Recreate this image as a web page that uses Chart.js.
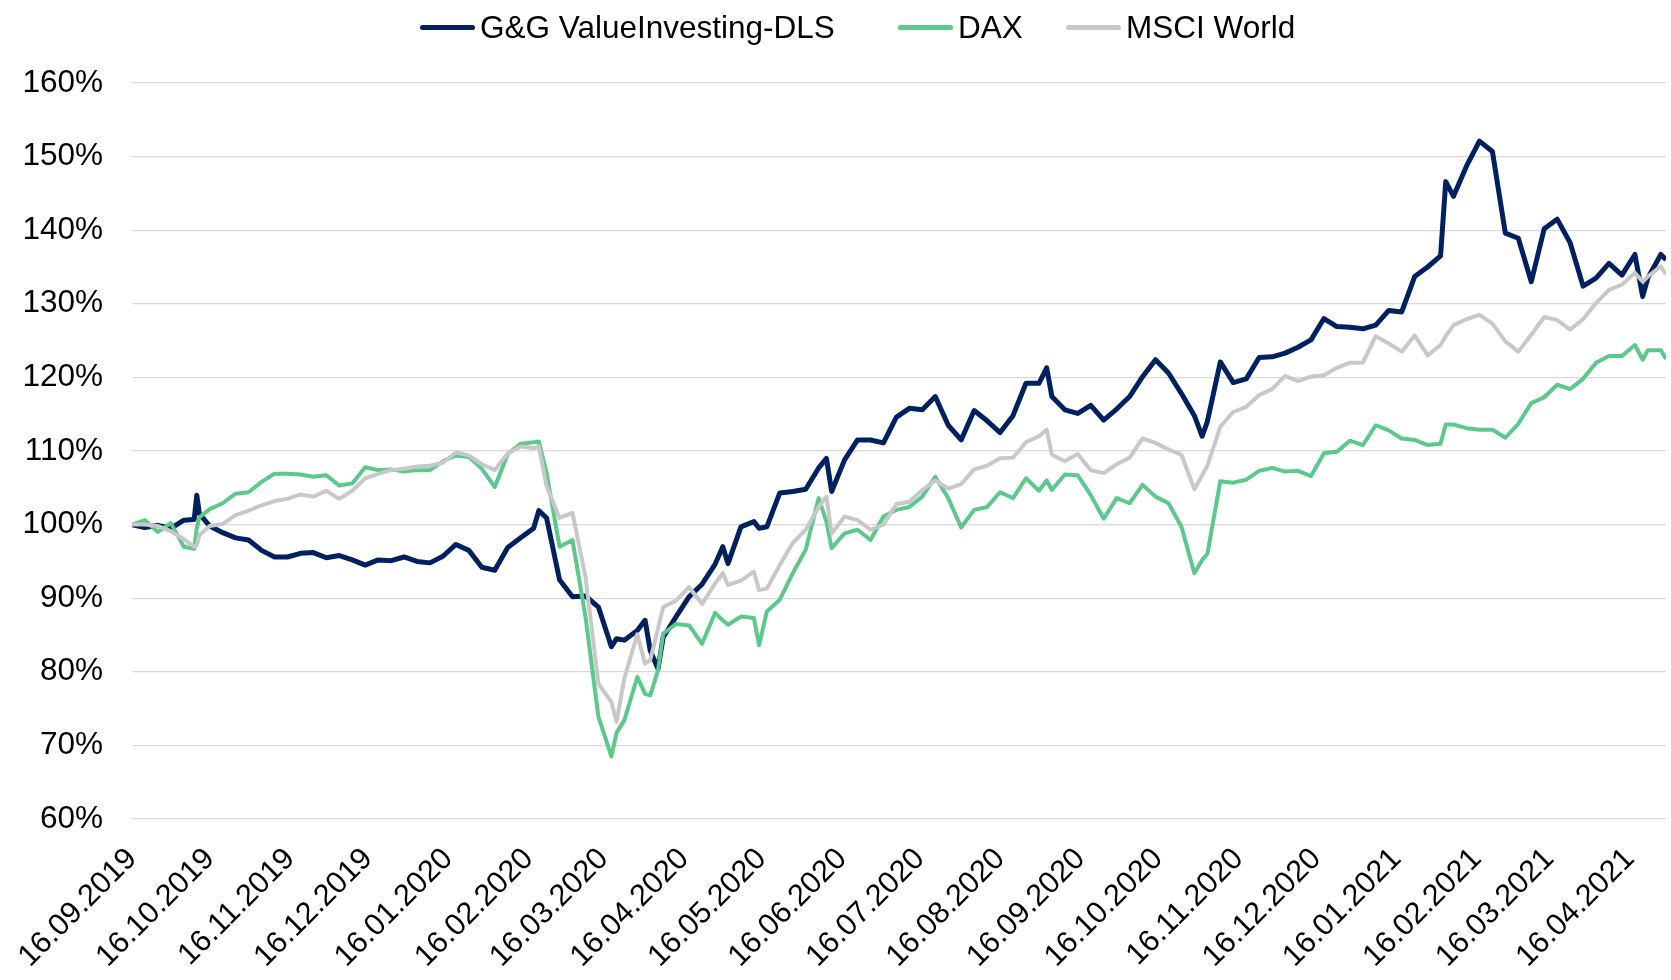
<!DOCTYPE html>
<html>
<head>
<meta charset="utf-8">
<script src="https://cdn.jsdelivr.net/npm/chart.js@4.4.1/dist/chart.umd.min.js"></script>
<style>
  body { margin: 0; background: #fff; }
  #wrap { position: relative; width: 1671px; height: 980px; }
  #legend { position: absolute; left: 0; top: 7px; height: 40px; width: 1671px;
    font: 31.5px "Liberation Sans", Arial, sans-serif; color: #000; }
  #legend .item { position: absolute; top: 0; height: 40px; display: flex; align-items: center; white-space: nowrap; }
  #legend .swatch { width: 55px; height: 5px; border-radius: 2.5px; margin-right: 5px; }
</style>
</head>
<body>
<div id="wrap">
  <canvas id="chart" width="1671" height="980"></canvas>
  <div id="legend"></div>
</div>
<script>
const seriesNames = ["G&G ValueInvesting-DLS", "DAX", "MSCI World"];

const dates = [
  "16.09.2019", "21.09.2019", "26.09.2019", "01.10.2019", "06.10.2019", "10.10.2019", "11.10.2019", "12.10.2019", "16.10.2019", "21.10.2019",
  "26.10.2019", "31.10.2019", "05.11.2019", "10.11.2019", "15.11.2019", "20.11.2019", "25.11.2019", "30.11.2019", "05.12.2019", "10.12.2019",
  "15.12.2019", "20.12.2019", "25.12.2019", "30.12.2019", "04.01.2020", "09.01.2020", "14.01.2020", "19.01.2020", "24.01.2020", "29.01.2020",
  "03.02.2020", "08.02.2020", "13.02.2020", "18.02.2020", "20.02.2020", "23.02.2020", "28.02.2020", "04.03.2020", "09.03.2020", "14.03.2020",
  "19.03.2020", "21.03.2020", "24.03.2020", "29.03.2020", "01.04.2020", "03.04.2020", "06.04.2020", "08.04.2020", "13.04.2020", "18.04.2020",
  "23.04.2020", "28.04.2020", "01.05.2020", "03.05.2020", "08.05.2020", "13.05.2020", "15.05.2020", "18.05.2020", "23.05.2020", "28.05.2020",
  "02.06.2020", "07.06.2020", "10.06.2020", "12.06.2020", "17.06.2020", "22.06.2020", "27.06.2020", "02.07.2020", "07.07.2020", "12.07.2020",
  "17.07.2020", "22.07.2020", "27.07.2020", "01.08.2020", "06.08.2020", "11.08.2020", "16.08.2020", "21.08.2020", "26.08.2020", "31.08.2020",
  "03.09.2020", "05.09.2020", "10.09.2020", "15.09.2020", "20.09.2020", "25.09.2020", "30.09.2020", "05.10.2020", "10.10.2020", "15.10.2020",
  "20.10.2020", "25.10.2020", "30.10.2020", "02.11.2020", "04.11.2020", "09.11.2020", "14.11.2020", "19.11.2020", "24.11.2020", "29.11.2020",
  "04.12.2020", "09.12.2020", "14.12.2020", "19.12.2020", "24.12.2020", "29.12.2020", "03.01.2021", "08.01.2021", "13.01.2021", "18.01.2021",
  "23.01.2021", "28.01.2021", "02.02.2021", "04.02.2021", "07.02.2021", "12.02.2021", "17.02.2021", "22.02.2021", "27.02.2021", "04.03.2021",
  "09.03.2021", "14.03.2021", "19.03.2021", "24.03.2021", "29.03.2021", "03.04.2021", "08.04.2021", "13.04.2021", "18.04.2021", "21.04.2021",
  "23.04.2021", "28.04.2021", "30.04.2021"
];

const ggValues = [
  100.0, 99.6, 99.9, 99.5, 100.6, 100.7, 104.0, 101.5, 99.8, 98.9,
  98.2, 97.9, 96.5, 95.6, 95.6, 96.1, 96.2, 95.5, 95.8, 95.2,
  94.5, 95.2, 95.1, 95.6, 95.0, 94.8, 95.7, 97.3, 96.5, 94.2,
  93.8, 96.9, 98.2, 99.5, 101.9, 100.9, 92.5, 90.2, 90.3, 88.8,
  83.4, 84.5, 84.3, 85.6, 87.0, 82.9, 80.4, 84.7, 87.5, 90.2,
  91.9, 94.6, 97.0, 94.7, 99.7, 100.4, 99.5, 99.7, 104.3, 104.5,
  104.8, 107.7, 109.0, 104.5, 108.8, 111.5, 111.5, 111.1, 114.6, 115.8,
  115.6, 117.4, 113.5, 111.5, 115.5, 114.1, 112.5, 114.8, 119.2, 119.2,
  121.3, 117.4, 115.6, 115.1, 116.2, 114.2, 115.7, 117.4, 120.1, 122.4,
  120.6, 117.8, 114.8, 112.0, 114.0, 122.1, 119.3, 119.8, 122.7, 122.8,
  123.3, 124.1, 125.1, 128.0, 126.9, 126.8, 126.6, 127.1, 129.1, 128.9,
  133.7, 135.0, 136.5, 146.6, 144.6, 148.7, 152.1, 150.7, 139.6, 138.9,
  133.0, 140.2, 141.5, 138.3, 132.4, 133.5, 135.5, 133.9, 136.7, 131.0,
  133.5, 136.7, 136.0
];

const daxValues = [
  100.0, 100.6, 99.0, 100.2, 97.0, 96.7, 99.5, 101.0, 102.1, 102.9,
  104.2, 104.4, 105.8, 106.9, 106.9, 106.8, 106.5, 106.7, 105.3, 105.6,
  107.8, 107.4, 107.5, 107.2, 107.4, 107.4, 108.6, 109.4, 109.2, 107.6,
  105.1, 109.6, 111.0, 111.2, 111.3, 107.0, 97.0, 97.9, 87.5, 73.9,
  68.5, 71.7, 73.4, 79.3, 77.0, 76.8, 80.2, 85.2, 86.5, 86.3,
  83.8, 88.0, 87.0, 86.4, 87.5, 87.3, 83.6, 88.2, 89.8, 93.4,
  96.6, 103.6, 100.4, 96.8, 98.8, 99.3, 97.9, 101.1, 102.0, 102.4,
  103.8, 106.5, 103.6, 99.6, 102.0, 102.4, 104.4, 103.6, 106.3, 104.6,
  106.0, 104.7, 106.8, 106.7, 104.0, 100.8, 103.6, 102.9, 105.4, 103.8,
  102.9, 99.7, 93.4, 95.2, 96.0, 105.9, 105.7, 106.1, 107.3, 107.7,
  107.2, 107.3, 106.6, 109.7, 109.9, 111.4, 110.8, 113.5, 112.8, 111.7,
  111.5, 110.8, 111.0, 113.6, 113.6, 113.1, 112.9, 112.9, 111.8, 113.7,
  116.5, 117.3, 119.0, 118.4, 119.8, 122.0, 122.9, 122.9, 124.4, 122.4,
  123.7, 123.7, 122.5
];

const msciValues = [
  100.0, 100.0, 99.8, 99.1, 98.0, 97.0, 97.2, 98.6, 99.8, 100.1,
  101.3, 101.9, 102.6, 103.2, 103.5, 104.1, 103.8, 104.6, 103.5, 104.6,
  106.3, 106.9, 107.4, 107.6, 107.9, 108.0, 108.4, 109.8, 109.4, 108.2,
  107.4, 109.7, 110.6, 110.4, 110.6, 105.2, 100.9, 101.6, 92.9, 78.4,
  75.9, 73.2, 79.1, 85.1, 81.1, 81.6, 85.9, 88.8, 89.7, 91.5,
  89.2, 92.0, 93.4, 91.8, 92.4, 93.6, 91.1, 91.3, 94.5, 97.5,
  99.3, 102.4, 103.8, 98.8, 101.1, 100.6, 99.3, 100.0, 102.8, 103.1,
  104.7, 106.0, 104.9, 105.5, 107.5, 108.0, 109.0, 109.1, 111.2, 112.0,
  112.9, 109.5, 108.6, 109.6, 107.4, 107.0, 108.2, 109.1, 111.7, 111.1,
  110.2, 109.5, 104.8, 106.7, 108.0, 113.3, 115.3, 116.0, 117.6, 118.4,
  120.2, 119.5, 120.1, 120.3, 121.3, 122.0, 122.0, 125.6, 124.6, 123.5,
  125.7, 123.0, 124.4, 125.6, 127.1, 127.9, 128.5, 127.3, 124.9, 123.5,
  125.8, 128.2, 127.8, 126.5, 127.9, 130.1, 131.9, 132.6, 134.2, 133.0,
  133.7, 135.1, 134.0
];

const tickLabels = [
  "16.09.2019", "16.10.2019", "16.11.2019", "16.12.2019", "16.01.2020",
  "16.02.2020", "16.03.2020", "16.04.2020", "16.05.2020", "16.06.2020",
  "16.07.2020", "16.08.2020", "16.09.2020", "16.10.2020", "16.11.2020",
  "16.12.2020", "16.01.2021", "16.02.2021", "16.03.2021", "16.04.2021"
];

const colors = ["#002060", "#5cc98c", "#c8c8c8"];
const widths = [5, 4, 4];
const legendLeft = [420, 898, 1066];

function dayNum(s) {
  const [d, m, y] = s.split(".").map(Number);
  return Date.UTC(y, m - 1, d) / 86400000;
}
const start = dayNum(dates[0]);
const xs = dates.map(d => dayNum(d) - start);
const tickDays = tickLabels.map(d => dayNum(d) - start);

function points(values) {
  return values.map((v, i) => ({ x: xs[i], y: v }));
}

const family = "'Liberation Sans', Arial, sans-serif";

// legend as plain html so the spacing matches
const legend = document.getElementById("legend");
seriesNames.forEach((name, i) => {
  legend.insertAdjacentHTML("beforeend",
    `<div class="item" style="left:${legendLeft[i]}px"><span class="swatch" style="background:${colors[i]}"></span>${name.replace("&", "&amp;")}</div>`);
});

const allValues = [ggValues, daxValues, msciValues];

new Chart(document.getElementById("chart"), {
  type: "line",
  data: {
    datasets: allValues.map((vals, i) => ({
      label: seriesNames[i],
      data: points(vals),
      borderColor: colors[i],
      backgroundColor: colors[i],
      borderWidth: widths[i],
      pointRadius: 0,
      tension: 0,
      borderJoinStyle: "round",
      order: 3 - i
    }))
  },
  options: {
    responsive: false,
    animation: false,
    devicePixelRatio: 1,
    layout: { padding: { top: 83, right: 5, left: 0, bottom: 0 } },
    plugins: {
      legend: { display: false },
      tooltip: { enabled: false }
    },
    scales: {
      x: {
        type: "linear",
        min: 0,
        max: xs[xs.length - 1],
        afterBuildTicks: (scale) => {
          scale.ticks = tickDays.map(v => ({ value: v }));
        },
        afterFit: (scale) => { scale.height = 161; },
        grid: { display: false },
        border: { display: false },
        ticks: {
          autoSkip: false,
          maxRotation: 45,
          minRotation: 45,
          padding: 14,
          color: "#000",
          font: { family: family, size: 30.5 },
          callback: (value, index) => tickLabels[index]
        }
      },
      y: {
        min: 60,
        max: 160,
        afterFit: (scale) => { scale.width = 132; },
        grid: { color: "#d9d9d9", lineWidth: 1.3, drawTicks: false },
        border: { display: false },
        ticks: {
          stepSize: 10,
          padding: 29,
          color: "#000",
          font: { family: family, size: 31.5 },
          callback: (v) => v + "%"
        }
      }
    }
  }
});
</script>
</body>
</html>
